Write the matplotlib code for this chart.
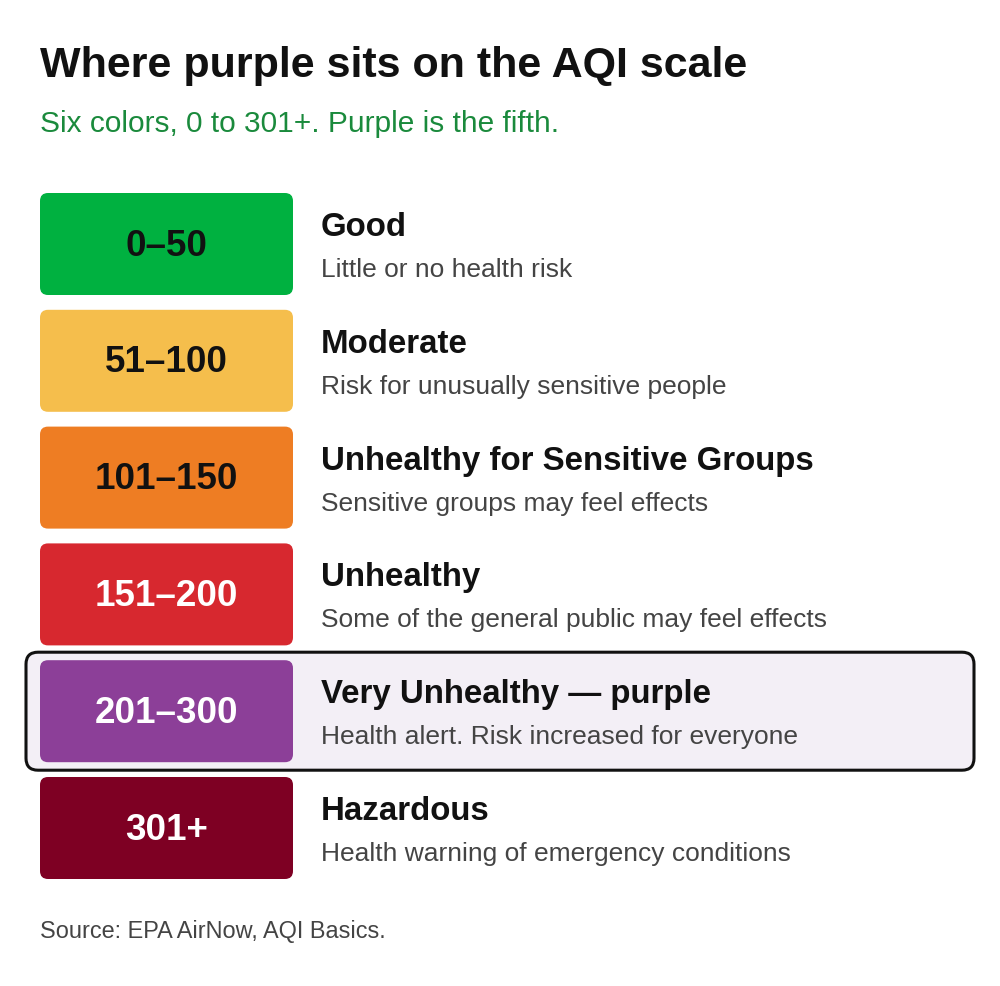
import matplotlib.pyplot as plt
from matplotlib.patches import FancyBboxPatch

plt.rcParams['font.family'] = ['Liberation Sans', 'DejaVu Sans']

# AQI categories, top to bottom
ranges = ['0–50', '51–100', '101–150', '151–200', '201–300', '301+']
names = ['Good', 'Moderate', 'Unhealthy for Sensitive Groups', 'Unhealthy',
         'Very Unhealthy — purple', 'Hazardous']
notes = ['Little or no health risk',
         'Risk for unusually sensitive people',
         'Sensitive groups may feel effects',
         'Some of the general public may feel effects',
         'Health alert. Risk increased for everyone',
         'Health warning of emergency conditions']
colors = ['#00b140', '#f5be4c', '#ee7d23', '#d7282f', '#8c3f98', '#7e0023']
num_colors = ['#111111', '#111111', '#111111', 'white', 'white', 'white']
highlight = 4

W, H = 1000, 987
fig = plt.figure(figsize=(W / 100, H / 100), dpi=100)
ax = fig.add_axes([0, 0, 1, 1])
ax.set_xlim(0, W)
ax.set_ylim(H, 0)
ax.axis('off')

ax.text(40, 77, 'Where purple sits on the AQI scale', fontsize=31,
        fontweight='bold', color='#111111', va='baseline')
ax.text(40, 132, 'Six colors, 0 to 301+. Purple is the fifth.', fontsize=21.5,
        color='#1a8a3c', va='baseline')

top0, pitch, bh = 194, 116.8, 102
bx, bw = 40, 253

# highlight frame behind the purple row
yt = top0 + highlight * pitch
ax.add_patch(FancyBboxPatch((26 + 12, yt - 8 + 12), 948 - 24, 118 - 24,
                            boxstyle='round,pad=12', fc='#f3eff6',
                            ec='#111111', lw=2.2, zorder=1))

for i, (r, n, d) in enumerate(zip(ranges, names, notes)):
    y = top0 + i * pitch
    ax.add_patch(FancyBboxPatch((bx + 8, y + 8), bw - 16, bh - 16,
                                boxstyle='round,pad=8', fc=colors[i],
                                ec='none', zorder=2))
    ax.text(bx + bw / 2, y + bh / 2 + 1, r, fontsize=26.5, fontweight='bold',
            color=num_colors[i], ha='center', va='center', zorder=3)
    ax.text(321, y + 42, n, fontsize=23.8, fontweight='bold', color='#111111',
            va='baseline', zorder=3)
    ax.text(321, y + 83, d, fontsize=19, color='#444444', va='baseline',
            zorder=3)

ax.text(40, 938, 'Source: EPA AirNow, AQI Basics.', fontsize=16.9,
        color='#444444', va='baseline')

fig.savefig('out.png', dpi=100)
